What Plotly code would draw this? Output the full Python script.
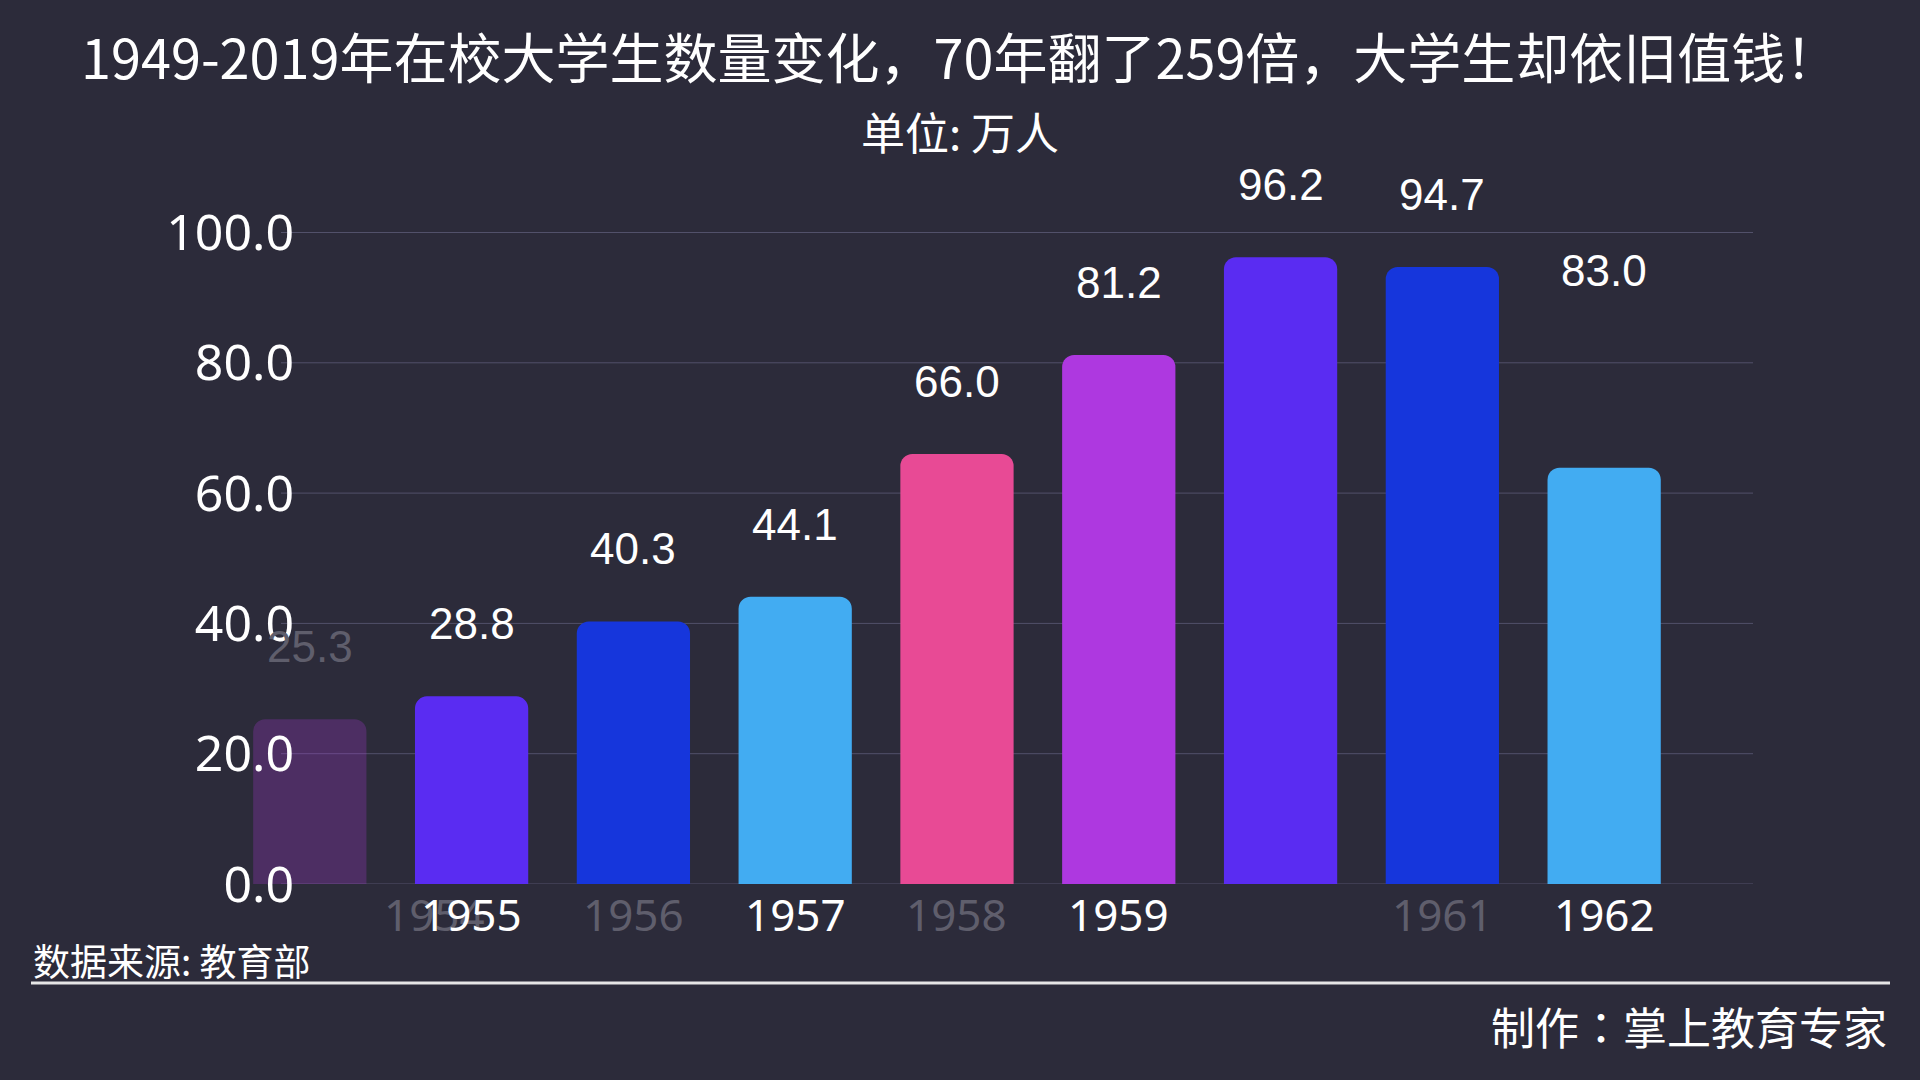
import plotly.graph_objects as go

# ---- data ----
years = ["1954", "1955", "1956", "1957", "1958", "1959", "1960", "1961", "1962"]
bar_values = [25.3, 28.8, 40.3, 44.1, 66.0, 81.2, 96.2, 94.7, 63.9]   # bar heights as drawn in this frame
label_values = [25.3, 28.8, 40.3, 44.1, 66.0, 81.2, 96.2, 94.7, 83.0]  # value labels shown
tick_labels = ["1954", "1955", "1956", "1957", "1958", "1959", "", "1961", "1962"]
faded = [True, False, True, False, True, False, False, True, False]
y_ticks = [0, 20, 40, 60, 80, 100]

palette = ["#ae38e0", "#5a2cf2", "#1636dc", "#42acf2", "#e84a95"]
BG = "#2c2b3a"
FADED_TXT = "#5f5e6c"
GRID = "#52516a"

W, H = 1920, 1080
L, R, T, B = 237, 167, 180, 196
PW, PH = W - L - R, H - T - B


def px(x):
    return (x - L) / PW


def py(y):
    return (H - B - y) / PH


colors = []
for i, y in enumerate(years):
    c = palette[i % 5]
    if i == 0:
        r, g, b = int(c[1:3], 16), int(c[3:5], 16), int(c[5:7], 16)
        colors.append(f"rgba({r},{g},{b},0.25)")
    else:
        colors.append(c)

fig = go.Figure(
    go.Bar(
        x=years,
        y=bar_values,
        marker=dict(color=colors, line=dict(width=0)),
        hoverinfo="skip",
    )
)

ann = []
# value labels
for i, v in enumerate(label_values):
    ann.append(dict(
        x=i, y=v, xref="x", yref="y", text=f"{v:.1f}", showarrow=False,
        xanchor="center", yanchor="bottom", yshift=46,
        font=dict(family="Liberation Sans, Arial", size=44,
                  color=FADED_TXT if i == 0 else "#ffffff"),
    ))
# category labels (faded ones first so the bright ones sit on top)
order = [i for i in range(len(years)) if faded[i]] + [i for i in range(len(years)) if not faded[i]]
for i in order:
    if not tick_labels[i]:
        continue
    ann.append(dict(
        x=i, y=0, xref="x", yref="y", text=tick_labels[i], showarrow=False,
        xanchor="center", yanchor="top", yshift=2,
        xshift=125 if i == 0 else 0,
        font=dict(family="Noto Sans", size=44,
                  color=FADED_TXT if faded[i] else "#ffffff"),
    ))

ann += [
    dict(x=px(960), y=py(55), xref="paper", yref="paper", showarrow=False,
         text="1949-2019年在校大学生数量变化，70年翻了259倍，大学生却依旧值钱！",
         font=dict(family="Noto Sans CJK SC", size=54, color="#ffffff"),
         xanchor="center", yanchor="middle"),
    dict(x=px(960), y=py(131), xref="paper", yref="paper", showarrow=False,
         text="单位: 万人",
         font=dict(family="Noto Sans CJK SC", size=44, color="#ffffff"),
         xanchor="center", yanchor="middle"),
    dict(x=px(31), y=py(960), xref="paper", yref="paper", showarrow=False,
         text="数据来源: 教育部",
         font=dict(family="Noto Sans CJK SC", size=37, color="#ffffff"),
         xanchor="left", yanchor="middle"),
    dict(x=px(1889), y=py(1026), xref="paper", yref="paper", showarrow=False,
         text="制作：掌上教育专家",
         font=dict(family="Noto Sans CJK TC", size=44, color="#ffffff"),
         xanchor="right", yanchor="middle"),
]

shapes = [dict(type="line", xref="paper", yref="paper",
               x0=px(31), x1=px(1890), y0=py(983), y1=py(983),
               line=dict(color="#e6e6e6", width=3))]
for v in y_ticks:
    shapes.append(dict(type="line", xref="paper", yref="y", layer="below",
                       x0=px(281), x1=1, y0=v, y1=v,
                       line=dict(color=GRID, width=1)))

fig.update_layout(
    width=W, height=H, autosize=False,
    margin=dict(l=L, r=R, t=T, b=B, pad=0),
    paper_bgcolor=BG, plot_bgcolor=BG,
    showlegend=False,
    bargap=0.30,
    barcornerradius=12,
    annotations=ann,
    shapes=shapes,
    xaxis=dict(
        type="category", categoryorder="array", categoryarray=years,
        range=[-0.45, 8.92],
        showticklabels=False,
        showgrid=False, zeroline=False, showline=False, ticks="",
    ),
    yaxis=dict(
        range=[0, (H - B - T) / 6.515],
        tickvals=y_ticks, tickformat=".1f",
        showgrid=False, zeroline=False, showline=False, ticks="",
        tickfont=dict(family="Noto Sans", size=50, color="#ffffff"),
        ticklabelstandoff=-58,
    ),
)

fig.write_html("out.html")
